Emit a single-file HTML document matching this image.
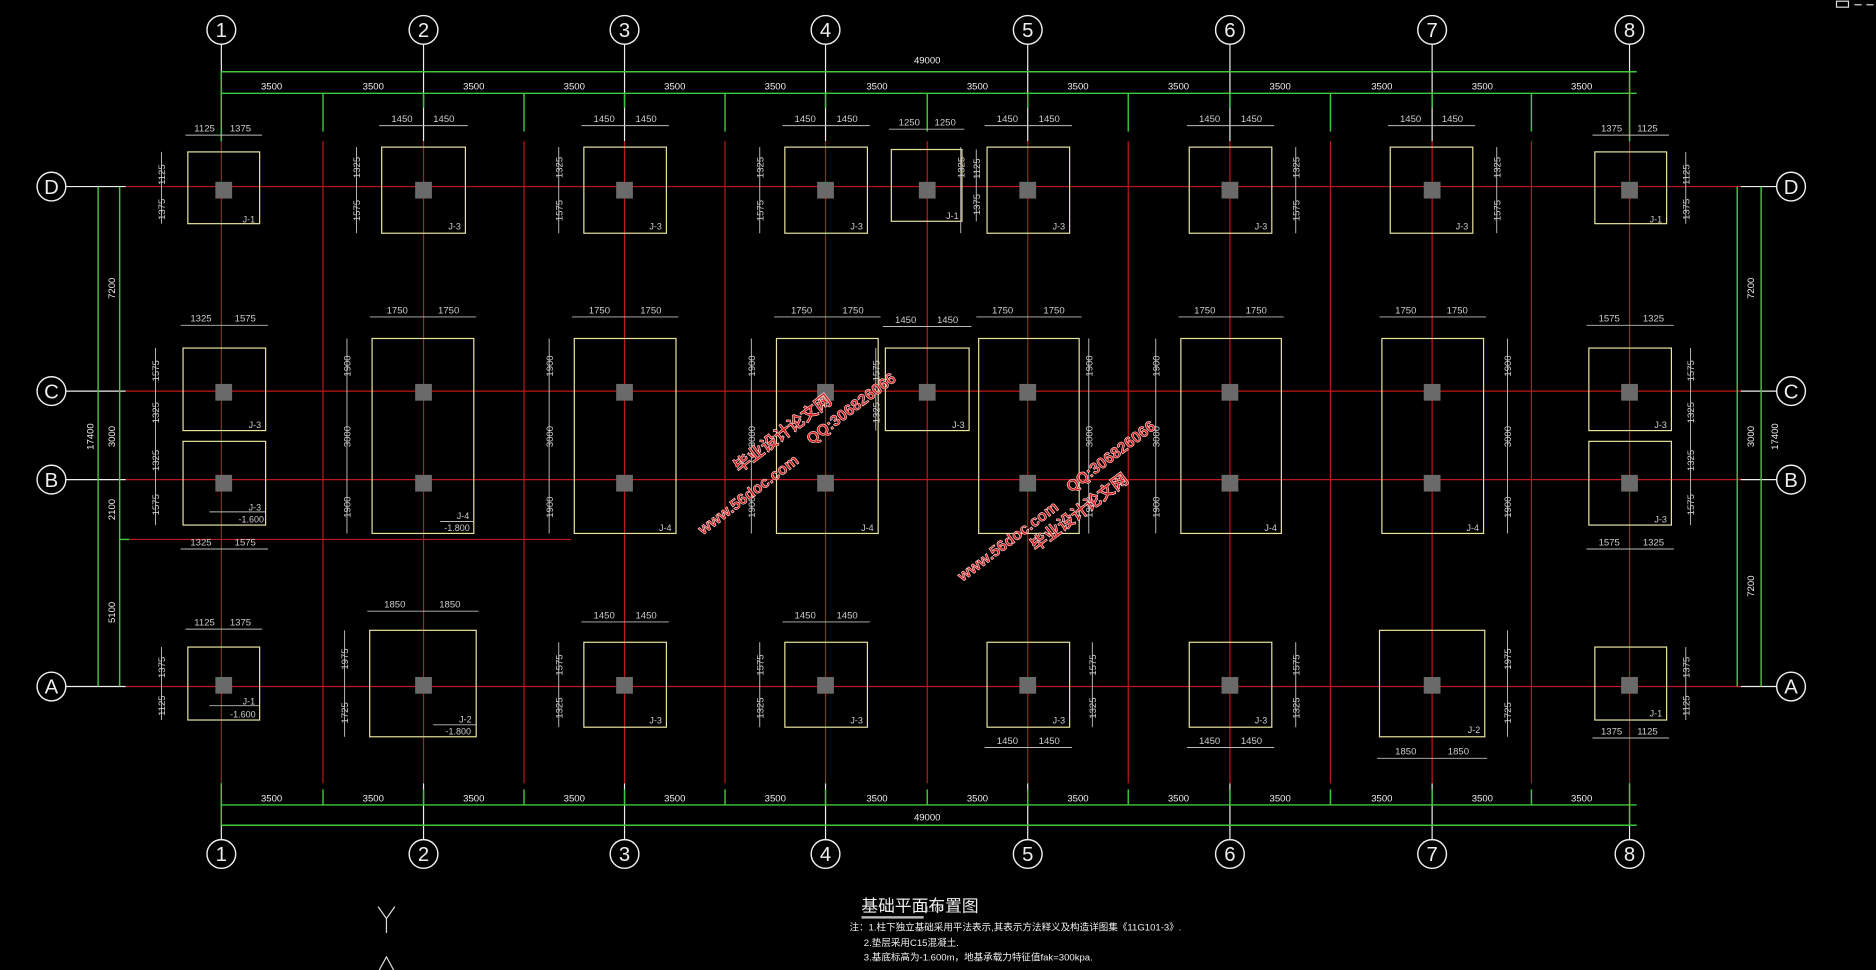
<!DOCTYPE html>
<html><head><meta charset="utf-8"><style>
html,body{margin:0;padding:0;background:#000;width:1876px;height:970px;overflow:hidden}
svg{display:block}
text{font-family:"Liberation Sans","Noto Sans CJK SC",sans-serif}
</style></head><body>
<svg width="1876" height="970" viewBox="0 0 1568 811" preserveAspectRatio="none">
<rect width="1568" height="811" fill="#000"/>
<!-- red grid -->
<g stroke="#c01818" stroke-width="1">
<line x1="105" y1="156" x2="1455" y2="156"/>
<line x1="105" y1="327" x2="1455" y2="327"/>
<line x1="105" y1="401" x2="1455" y2="401"/>
<line x1="105" y1="574" x2="1455" y2="574"/>
<line x1="108" y1="451" x2="477" y2="451"/>
<g>
<line x1="185" y1="118" x2="185" y2="655"/><line x1="354" y1="118" x2="354" y2="655"/><line x1="522" y1="118" x2="522" y2="655"/><line x1="690" y1="118" x2="690" y2="655"/><line x1="859" y1="118" x2="859" y2="655"/><line x1="1028" y1="118" x2="1028" y2="655"/><line x1="1197" y1="118" x2="1197" y2="655"/><line x1="1362" y1="118" x2="1362" y2="655"/>
<line x1="270" y1="118" x2="270" y2="655"/><line x1="438" y1="118" x2="438" y2="655"/><line x1="606" y1="118" x2="606" y2="655"/><line x1="775" y1="118" x2="775" y2="655"/><line x1="943" y1="118" x2="943" y2="655"/><line x1="1112" y1="118" x2="1112" y2="655"/><line x1="1280" y1="118" x2="1280" y2="655"/>
</g></g>
<!-- white axis leaders -->
<g stroke="#eee" stroke-width="1" fill="none">
<line x1="185" y1="37" x2="185" y2="118"/><line x1="354" y1="37" x2="354" y2="118"/><line x1="522" y1="37" x2="522" y2="118"/><line x1="690" y1="37" x2="690" y2="118"/><line x1="859" y1="37" x2="859" y2="118"/><line x1="1028" y1="37" x2="1028" y2="118"/><line x1="1197" y1="37" x2="1197" y2="118"/><line x1="1362" y1="37" x2="1362" y2="118"/>
<line x1="185" y1="655" x2="185" y2="702"/><line x1="354" y1="655" x2="354" y2="702"/><line x1="522" y1="655" x2="522" y2="702"/><line x1="690" y1="655" x2="690" y2="702"/><line x1="859" y1="655" x2="859" y2="702"/><line x1="1028" y1="655" x2="1028" y2="702"/><line x1="1197" y1="655" x2="1197" y2="702"/><line x1="1362" y1="655" x2="1362" y2="702"/>
<line x1="55" y1="156" x2="105" y2="156"/><line x1="55" y1="327" x2="105" y2="327"/><line x1="55" y1="401" x2="105" y2="401"/><line x1="55" y1="574" x2="105" y2="574"/>
<line x1="1455" y1="156" x2="1485" y2="156"/><line x1="1455" y1="327" x2="1485" y2="327"/><line x1="1455" y1="401" x2="1485" y2="401"/><line x1="1455" y1="574" x2="1485" y2="574"/>
<!-- bubbles -->
<g stroke-width="1.2">
<circle cx="185" cy="25" r="12"/><circle cx="354" cy="25" r="12"/><circle cx="522" cy="25" r="12"/><circle cx="690" cy="25" r="12"/><circle cx="859" cy="25" r="12"/><circle cx="1028" cy="25" r="12"/><circle cx="1197" cy="25" r="12"/><circle cx="1362" cy="25" r="12"/>
<circle cx="185" cy="714" r="12"/><circle cx="354" cy="714" r="12"/><circle cx="522" cy="714" r="12"/><circle cx="690" cy="714" r="12"/><circle cx="859" cy="714" r="12"/><circle cx="1028" cy="714" r="12"/><circle cx="1197" cy="714" r="12"/><circle cx="1362" cy="714" r="12"/>
<circle cx="43" cy="156" r="12"/><circle cx="43" cy="327" r="12"/><circle cx="43" cy="401" r="12"/><circle cx="43" cy="574" r="12"/>
<circle cx="1497" cy="156" r="12"/><circle cx="1497" cy="327" r="12"/><circle cx="1497" cy="401" r="12"/><circle cx="1497" cy="574" r="12"/>
</g></g>
<g fill="#eee" font-size="17" text-anchor="middle">
<text x="185" y="31">1</text><text x="354" y="31">2</text><text x="522" y="31">3</text><text x="690" y="31">4</text><text x="859" y="31">5</text><text x="1028" y="31">6</text><text x="1197" y="31">7</text><text x="1362" y="31">8</text>
<text x="185" y="720">1</text><text x="354" y="720">2</text><text x="522" y="720">3</text><text x="690" y="720">4</text><text x="859" y="720">5</text><text x="1028" y="720">6</text><text x="1197" y="720">7</text><text x="1362" y="720">8</text>
<text x="43" y="162">D</text><text x="43" y="333">C</text><text x="43" y="407">B</text><text x="43" y="580">A</text>
<text x="1497" y="162">D</text><text x="1497" y="333">C</text><text x="1497" y="407">B</text><text x="1497" y="580">A</text>
</g>
<!-- green dimension lines -->
<g stroke="#3ec83e" stroke-width="1.2">
<line x1="185" y1="60" x2="1368" y2="60"/><line x1="185" y1="78" x2="1368" y2="78"/>
<line x1="185" y1="673" x2="1368" y2="673"/><line x1="185" y1="690" x2="1368" y2="690"/>
<line x1="185" y1="60" x2="185" y2="118"/><line x1="1362" y1="60" x2="1362" y2="118"/>
<line x1="185" y1="655" x2="185" y2="690"/><line x1="1362" y1="655" x2="1362" y2="690"/>
<line x1="270" y1="78" x2="270" y2="110"/><line x1="354" y1="78" x2="354" y2="90"/><line x1="438" y1="78" x2="438" y2="110"/><line x1="522" y1="78" x2="522" y2="90"/><line x1="606" y1="78" x2="606" y2="110"/><line x1="690" y1="78" x2="690" y2="90"/><line x1="775" y1="78" x2="775" y2="110"/><line x1="859" y1="78" x2="859" y2="90"/><line x1="943" y1="78" x2="943" y2="110"/><line x1="1028" y1="78" x2="1028" y2="90"/><line x1="1112" y1="78" x2="1112" y2="110"/><line x1="1197" y1="78" x2="1197" y2="90"/><line x1="1280" y1="78" x2="1280" y2="110"/>
<line x1="270" y1="660" x2="270" y2="673"/><line x1="354" y1="660" x2="354" y2="673"/><line x1="438" y1="660" x2="438" y2="673"/><line x1="522" y1="660" x2="522" y2="673"/><line x1="606" y1="660" x2="606" y2="673"/><line x1="690" y1="660" x2="690" y2="673"/><line x1="775" y1="660" x2="775" y2="673"/><line x1="859" y1="660" x2="859" y2="673"/><line x1="943" y1="660" x2="943" y2="673"/><line x1="1028" y1="660" x2="1028" y2="673"/><line x1="1112" y1="660" x2="1112" y2="673"/><line x1="1197" y1="660" x2="1197" y2="673"/><line x1="1280" y1="660" x2="1280" y2="673"/>
<line x1="82" y1="156" x2="82" y2="574"/><line x1="100" y1="156" x2="100" y2="574"/>
<line x1="1452" y1="156" x2="1452" y2="574"/><line x1="1472" y1="156" x2="1472" y2="574"/>
<line x1="100" y1="451" x2="108" y2="451"/>
</g>
<g fill="#eee" font-size="8" text-anchor="middle">
<text x="775" y="53">49000</text><text x="775" y="686">49000</text>
<text x="227" y="75">3500</text><text x="312" y="75">3500</text><text x="396" y="75">3500</text><text x="480" y="75">3500</text><text x="564" y="75">3500</text><text x="648" y="75">3500</text><text x="733" y="75">3500</text><text x="817" y="75">3500</text><text x="901" y="75">3500</text><text x="985" y="75">3500</text><text x="1070" y="75">3500</text><text x="1155" y="75">3500</text><text x="1239" y="75">3500</text><text x="1322" y="75">3500</text>
<text x="227" y="670">3500</text><text x="312" y="670">3500</text><text x="396" y="670">3500</text><text x="480" y="670">3500</text><text x="564" y="670">3500</text><text x="648" y="670">3500</text><text x="733" y="670">3500</text><text x="817" y="670">3500</text><text x="901" y="670">3500</text><text x="985" y="670">3500</text><text x="1070" y="670">3500</text><text x="1155" y="670">3500</text><text x="1239" y="670">3500</text><text x="1322" y="670">3500</text>
<text transform="translate(78,365) rotate(-90)">17400</text>
<text transform="translate(96,241) rotate(-90)">7200</text>
<text transform="translate(96,365) rotate(-90)">3000</text>
<text transform="translate(96,426) rotate(-90)">2100</text>
<text transform="translate(96,512) rotate(-90)">5100</text>
<text transform="translate(1466,241) rotate(-90)">7200</text>
<text transform="translate(1466,365) rotate(-90)">3000</text>
<text transform="translate(1486,365) rotate(-90)">17400</text>
<text transform="translate(1466,490) rotate(-90)">7200</text>
</g>
<!-- footings -->
<g fill="none" stroke="#e8e4a0" stroke-width="1">
<rect x="157" y="127" width="60" height="60"/><rect x="319" y="123" width="70" height="72"/><rect x="488" y="123" width="69" height="72"/><rect x="656" y="123" width="69" height="72"/><rect x="745" y="125" width="59" height="60"/><rect x="825" y="123" width="69" height="72"/><rect x="994" y="123" width="69" height="72"/><rect x="1162" y="123" width="69" height="72"/><rect x="1333" y="127" width="60" height="60"/>
<rect x="153" y="291" width="69" height="69"/><rect x="153" y="369" width="69" height="70"/>
<rect x="311" y="283" width="85" height="163"/><rect x="480" y="283" width="85" height="163"/><rect x="649" y="283" width="85" height="163"/><rect x="740" y="291" width="70" height="69"/><rect x="818" y="283" width="84" height="163"/><rect x="987" y="283" width="84" height="163"/><rect x="1155" y="283" width="85" height="163"/>
<rect x="1328" y="291" width="69" height="69"/><rect x="1328" y="369" width="69" height="70"/>
<rect x="157" y="541" width="60" height="61"/><rect x="309" y="527" width="89" height="89"/><rect x="488" y="537" width="69" height="71"/><rect x="656" y="537" width="69" height="71"/><rect x="825" y="537" width="69" height="71"/><rect x="994" y="537" width="69" height="71"/><rect x="1153" y="527" width="88" height="89"/><rect x="1333" y="541" width="60" height="61"/>
</g>
<!-- columns -->
<g fill="#6a6a6a">
<rect x="180" y="152" width="14" height="14"/><rect x="347" y="152" width="14" height="14"/><rect x="515" y="152" width="14" height="14"/><rect x="683" y="152" width="14" height="14"/><rect x="768" y="152" width="14" height="14"/><rect x="852" y="152" width="14" height="14"/><rect x="1021" y="152" width="14" height="14"/><rect x="1190" y="152" width="14" height="14"/><rect x="1355" y="152" width="14" height="14"/>
<rect x="180" y="321" width="14" height="14"/><rect x="347" y="321" width="14" height="14"/><rect x="515" y="321" width="14" height="14"/><rect x="683" y="321" width="14" height="14"/><rect x="768" y="321" width="14" height="14"/><rect x="852" y="321" width="14" height="14"/><rect x="1021" y="321" width="14" height="14"/><rect x="1190" y="321" width="14" height="14"/><rect x="1355" y="321" width="14" height="14"/>
<rect x="180" y="397" width="14" height="14"/><rect x="347" y="397" width="14" height="14"/><rect x="515" y="397" width="14" height="14"/><rect x="683" y="397" width="14" height="14"/><rect x="852" y="397" width="14" height="14"/><rect x="1021" y="397" width="14" height="14"/><rect x="1190" y="397" width="14" height="14"/><rect x="1355" y="397" width="14" height="14"/>
<rect x="180" y="566" width="14" height="14"/><rect x="347" y="566" width="14" height="14"/><rect x="515" y="566" width="14" height="14"/><rect x="683" y="566" width="14" height="14"/><rect x="852" y="566" width="14" height="14"/><rect x="1021" y="566" width="14" height="14"/><rect x="1190" y="566" width="14" height="14"/><rect x="1355" y="566" width="14" height="14"/>
</g>
<!-- footing dimension lines (grey) -->
<g stroke="#bbb" stroke-width="0.8">
<line x1="155" y1="113" x2="219" y2="113"/><line x1="317" y1="105" x2="391" y2="105"/><line x1="486" y1="105" x2="559" y2="105"/><line x1="654" y1="105" x2="727" y2="105"/><line x1="743" y1="108" x2="806" y2="108"/><line x1="823" y1="105" x2="896" y2="105"/><line x1="992" y1="105" x2="1065" y2="105"/><line x1="1160" y1="105" x2="1233" y2="105"/><line x1="1331" y1="113" x2="1395" y2="113"/>
<line x1="151" y1="272" x2="224" y2="272"/><line x1="309" y1="265" x2="398" y2="265"/><line x1="478" y1="265" x2="567" y2="265"/><line x1="647" y1="265" x2="736" y2="265"/><line x1="738" y1="273" x2="812" y2="273"/><line x1="816" y1="265" x2="904" y2="265"/><line x1="985" y1="265" x2="1073" y2="265"/><line x1="1153" y1="265" x2="1242" y2="265"/><line x1="1326" y1="272" x2="1399" y2="272"/>
<line x1="151" y1="459" x2="224" y2="459"/><line x1="1326" y1="459" x2="1399" y2="459"/>
<line x1="155" y1="526" x2="219" y2="526"/><line x1="307" y1="511" x2="400" y2="511"/><line x1="486" y1="520" x2="559" y2="520"/><line x1="654" y1="520" x2="727" y2="520"/>
<line x1="823" y1="625" x2="896" y2="625"/><line x1="992" y1="625" x2="1065" y2="625"/><line x1="1151" y1="634" x2="1243" y2="634"/><line x1="1331" y1="617" x2="1395" y2="617"/>
<line x1="135" y1="127" x2="135" y2="187"/><line x1="298" y1="123" x2="298" y2="195"/><line x1="467" y1="123" x2="467" y2="195"/><line x1="635" y1="123" x2="635" y2="195"/><line x1="816" y1="125" x2="816" y2="185"/><line x1="803" y1="123" x2="803" y2="195"/><line x1="1083" y1="123" x2="1083" y2="195"/><line x1="1251" y1="123" x2="1251" y2="195"/><line x1="1409" y1="127" x2="1409" y2="187"/>
<line x1="130" y1="291" x2="130" y2="439"/><line x1="1413" y1="291" x2="1413" y2="439"/>
<line x1="290" y1="283" x2="290" y2="446"/><line x1="459" y1="283" x2="459" y2="446"/><line x1="628" y1="283" x2="628" y2="446"/><line x1="732" y1="291" x2="732" y2="360"/><line x1="910" y1="283" x2="910" y2="446"/><line x1="966" y1="283" x2="966" y2="446"/><line x1="1260" y1="283" x2="1260" y2="446"/>
<line x1="135" y1="541" x2="135" y2="602"/><line x1="288" y1="527" x2="288" y2="616"/><line x1="467" y1="537" x2="467" y2="608"/><line x1="635" y1="537" x2="635" y2="608"/><line x1="913" y1="537" x2="913" y2="608"/><line x1="1083" y1="537" x2="1083" y2="608"/><line x1="1260" y1="527" x2="1260" y2="616"/><line x1="1409" y1="541" x2="1409" y2="602"/>
<line x1="175" y1="428" x2="222" y2="428"/><line x1="368" y1="436" x2="396" y2="436"/><line x1="175" y1="590" x2="217" y2="590"/><line x1="362" y1="606" x2="398" y2="606"/>
</g>
<g fill="#ccc" font-size="8" text-anchor="middle">
<text x="171" y="110">1125</text><text x="201" y="110">1375</text>
<text x="336" y="102">1450</text><text x="371" y="102">1450</text><text x="505" y="102">1450</text><text x="540" y="102">1450</text><text x="673" y="102">1450</text><text x="708" y="102">1450</text><text x="760" y="105">1250</text><text x="790" y="105">1250</text><text x="842" y="102">1450</text><text x="877" y="102">1450</text><text x="1011" y="102">1450</text><text x="1046" y="102">1450</text><text x="1179" y="102">1450</text><text x="1214" y="102">1450</text><text x="1347" y="110">1375</text><text x="1377" y="110">1125</text>
<text x="168" y="269">1325</text><text x="205" y="269">1575</text>
<text x="332" y="262">1750</text><text x="375" y="262">1750</text><text x="501" y="262">1750</text><text x="544" y="262">1750</text><text x="670" y="262">1750</text><text x="713" y="262">1750</text><text x="757" y="270">1450</text><text x="792" y="270">1450</text><text x="838" y="262">1750</text><text x="881" y="262">1750</text><text x="1007" y="262">1750</text><text x="1050" y="262">1750</text><text x="1175" y="262">1750</text><text x="1218" y="262">1750</text>
<text x="1345" y="269">1575</text><text x="1382" y="269">1325</text>
<text x="168" y="456">1325</text><text x="205" y="456">1575</text><text x="1345" y="456">1575</text><text x="1382" y="456">1325</text>
<text x="171" y="523">1125</text><text x="201" y="523">1375</text><text x="330" y="508">1850</text><text x="376" y="508">1850</text><text x="505" y="517">1450</text><text x="540" y="517">1450</text><text x="673" y="517">1450</text><text x="708" y="517">1450</text>
<text x="842" y="622">1450</text><text x="877" y="622">1450</text><text x="1011" y="622">1450</text><text x="1046" y="622">1450</text><text x="1175" y="631">1850</text><text x="1219" y="631">1850</text><text x="1347" y="614">1375</text><text x="1377" y="614">1125</text>
<g font-size="7.5">
<text x="208" y="186">J-1</text><text x="380" y="192">J-3</text><text x="548" y="192">J-3</text><text x="716" y="192">J-3</text><text x="796" y="183">J-1</text><text x="885" y="192">J-3</text><text x="1054" y="192">J-3</text><text x="1222" y="192">J-3</text><text x="1384" y="186">J-1</text>
<text x="213" y="358">J-3</text><text x="213" y="427">J-3</text><text x="210" y="437">-1.600</text>
<text x="387" y="434">J-4</text><text x="382" y="444">-1.800</text><text x="556" y="444">J-4</text><text x="725" y="444">J-4</text><text x="801" y="358">J-3</text><text x="1062" y="444">J-4</text><text x="1231" y="444">J-4</text>
<text x="1388" y="358">J-3</text><text x="1388" y="437">J-3</text>
<text x="208" y="589">J-1</text><text x="203" y="600">-1.600</text><text x="389" y="604">J-2</text><text x="383" y="614">-1.800</text><text x="548" y="605">J-3</text><text x="716" y="605">J-3</text><text x="885" y="605">J-3</text><text x="1054" y="605">J-3</text><text x="1232" y="613">J-2</text><text x="1384" y="599">J-1</text>
</g>
<g>
<text transform="translate(138,146) rotate(-90)">1125</text><text transform="translate(138,175) rotate(-90)">1375</text>
<text transform="translate(301,140) rotate(-90)">1325</text><text transform="translate(301,176) rotate(-90)">1575</text>
<text transform="translate(470,140) rotate(-90)">1325</text><text transform="translate(470,176) rotate(-90)">1575</text>
<text transform="translate(638,140) rotate(-90)">1325</text><text transform="translate(638,176) rotate(-90)">1575</text>
<text transform="translate(819,141) rotate(-90)">1125</text><text transform="translate(819,171) rotate(-90)">1375</text>
<text transform="translate(806,140) rotate(-90)">1325</text>
<text transform="translate(1086,140) rotate(-90)">1325</text><text transform="translate(1086,176) rotate(-90)">1575</text>
<text transform="translate(1254,140) rotate(-90)">1325</text><text transform="translate(1254,176) rotate(-90)">1575</text>
<text transform="translate(1412,146) rotate(-90)">1125</text><text transform="translate(1412,175) rotate(-90)">1375</text>
<text transform="translate(133,310) rotate(-90)">1575</text><text transform="translate(133,345) rotate(-90)">1325</text><text transform="translate(133,385) rotate(-90)">1325</text><text transform="translate(133,422) rotate(-90)">1575</text>
<text transform="translate(1416,310) rotate(-90)">1575</text><text transform="translate(1416,345) rotate(-90)">1325</text><text transform="translate(1416,385) rotate(-90)">1325</text><text transform="translate(1416,422) rotate(-90)">1575</text>
<text transform="translate(293,306) rotate(-90)">1900</text><text transform="translate(293,365) rotate(-90)">3000</text><text transform="translate(293,424) rotate(-90)">1900</text>
<text transform="translate(462,306) rotate(-90)">1900</text><text transform="translate(462,365) rotate(-90)">3000</text><text transform="translate(462,424) rotate(-90)">1900</text>
<text transform="translate(631,306) rotate(-90)">1900</text><text transform="translate(631,365) rotate(-90)">3000</text><text transform="translate(631,424) rotate(-90)">1900</text>
<text transform="translate(735,310) rotate(-90)">1575</text><text transform="translate(735,345) rotate(-90)">1325</text>
<text transform="translate(913,306) rotate(-90)">1900</text><text transform="translate(913,365) rotate(-90)">3000</text><text transform="translate(913,424) rotate(-90)">1900</text>
<text transform="translate(969,306) rotate(-90)">1900</text><text transform="translate(969,365) rotate(-90)">3000</text><text transform="translate(969,424) rotate(-90)">1900</text>
<text transform="translate(1263,306) rotate(-90)">1900</text><text transform="translate(1263,365) rotate(-90)">3000</text><text transform="translate(1263,424) rotate(-90)">1900</text>
<text transform="translate(138,558) rotate(-90)">1375</text><text transform="translate(138,590) rotate(-90)">1125</text>
<text transform="translate(291,551) rotate(-90)">1975</text><text transform="translate(291,596) rotate(-90)">1725</text>
<text transform="translate(470,556) rotate(-90)">1575</text><text transform="translate(470,592) rotate(-90)">1325</text>
<text transform="translate(638,556) rotate(-90)">1575</text><text transform="translate(638,592) rotate(-90)">1325</text>
<text transform="translate(916,556) rotate(-90)">1575</text><text transform="translate(916,592) rotate(-90)">1325</text>
<text transform="translate(1086,556) rotate(-90)">1575</text><text transform="translate(1086,592) rotate(-90)">1325</text>
<text transform="translate(1263,551) rotate(-90)">1975</text><text transform="translate(1263,596) rotate(-90)">1725</text>
<text transform="translate(1412,558) rotate(-90)">1375</text><text transform="translate(1412,590) rotate(-90)">1125</text>
</g></g>
<!-- watermarks -->
<g fill="#d01818" stroke="#ffdede" stroke-width="0.5" font-weight="bold" font-size="14" text-anchor="middle">
<text transform="translate(657,366) rotate(-37)">毕业设计论文网</text>
<text transform="translate(628,417) rotate(-37)" font-size="13">www.56doc.com</text>
<text transform="translate(714,345) rotate(-37)" font-size="13">QQ:306826066</text>
<text transform="translate(931,385) rotate(-37)" font-size="13">QQ:306826066</text>
<text transform="translate(845,456) rotate(-37)" font-size="13">www.56doc.com</text>
<text transform="translate(905,432) rotate(-37)">毕业设计论文网</text>
</g>
<!-- title & notes -->
<text x="720" y="762" fill="#eee" font-size="14">基础平面布置图</text>
<text x="773" y="762" fill="#eee" font-size="6">1:100</text>
<rect x="720" y="766" width="52" height="2" fill="#bbb"/>
<g fill="#eee" font-size="8">
<text x="710" y="778">注：1.柱下独立基础采用平法表示,其表示方法释义及构造详图集《11G101-3》.</text>
<text x="722" y="791">2.垫层采用C15混凝土.</text>
<text x="722" y="803">3.基底标高为-1.600m，地基承载力特征值fak=300kpa.</text>
</g>
<g stroke="#ddd" stroke-width="1" fill="none">
<polyline points="316,758 323,768 330,758"/><line x1="323" y1="768" x2="323" y2="780"/>
<polyline points="317,811 323,800 329,811"/>
<rect x="1535" y="1" width="10" height="5"/><line x1="1550" y1="4" x2="1556" y2="4"/><line x1="1560" y1="4" x2="1566" y2="4"/>
</g>
</svg>
</body></html>
